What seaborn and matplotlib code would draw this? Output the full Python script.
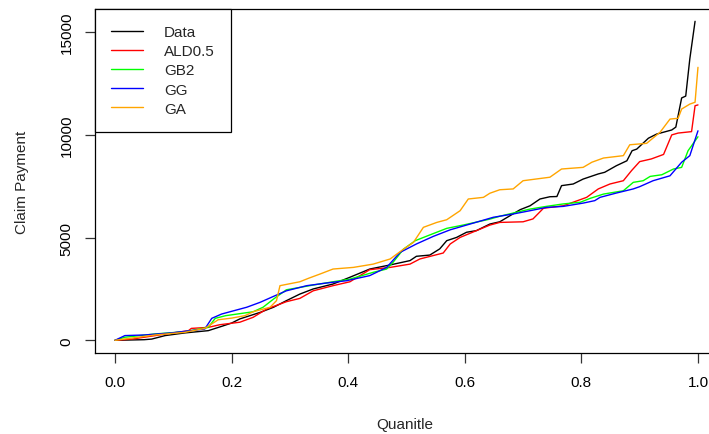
import numpy as np
import pandas as pd
import matplotlib
matplotlib.use('Agg')
import matplotlib.pyplot as plt
import seaborn as sns

# Quantile curves
data_q = [0, 0.05, 0.063, 0.086, 0.12, 0.16, 0.183, 0.2, 0.214, 0.249, 0.272, 0.294, 0.317, 0.34,
          0.374, 0.403, 0.437, 0.472, 0.506, 0.517, 0.54, 0.557, 0.569, 0.586, 0.603, 0.62, 0.643,
          0.66, 0.695, 0.712, 0.729, 0.746, 0.758, 0.766, 0.786, 0.803, 0.829, 0.84, 0.86, 0.878,
          0.887, 0.895, 0.915, 0.929, 0.955, 0.962, 0.972, 0.979, 0.986, 0.995]
data_v = [0, 30, 60, 230, 360, 470, 680, 840, 1040, 1360, 1610, 1930, 2250, 2500,
          2740, 3070, 3470, 3670, 3880, 4090, 4150, 4450, 4850, 5010, 5260, 5340, 5660,
          5770, 6360, 6550, 6880, 6990, 7000, 7530, 7610, 7850, 8100, 8180, 8500, 8740,
          9230, 9310, 9840, 10040, 10240, 10380, 11800, 11890, 13700, 15530]

ald_q = [0, 0.029, 0.069, 0.126, 0.131, 0.16, 0.18, 0.214, 0.237, 0.26, 0.294, 0.317, 0.34,
         0.374, 0.403, 0.437, 0.472, 0.506, 0.523, 0.563, 0.575, 0.592, 0.62, 0.643, 0.66, 0.70,
         0.717, 0.735, 0.769, 0.809, 0.829, 0.849, 0.872, 0.886, 0.9, 0.92, 0.941, 0.955, 0.966,
         0.989, 0.995, 1.0]
ald_v = [0, 60, 230, 470, 580, 630, 760, 880, 1120, 1520, 1880, 2040, 2410,
         2660, 2850, 3440, 3550, 3710, 3960, 4250, 4690, 5010, 5340, 5610, 5740, 5770,
         5910, 6430, 6550, 6960, 7370, 7610, 7770, 8260, 8700, 8830, 9050, 10000, 10090,
         10160, 11420, 11460]

gb2_q = [0, 0.017, 0.069, 0.12, 0.16, 0.172, 0.19, 0.237, 0.254, 0.272, 0.294, 0.34, 0.374,
         0.403, 0.443, 0.466, 0.477, 0.495, 0.515, 0.54, 0.569, 0.597, 0.643, 0.66, 0.712, 0.74,
         0.769, 0.798, 0.815, 0.838, 0.872, 0.889, 0.906, 0.918, 0.938, 0.958, 0.972, 0.983, 1.0]
gb2_v = [0, 150, 310, 420, 630, 1070, 1200, 1390, 1610, 2010, 2460, 2690, 2850,
         2980, 3310, 3470, 3800, 4440, 4850, 5130, 5450, 5610, 5900, 6040, 6390, 6520,
         6640, 6720, 6910, 7120, 7280, 7690, 7770, 7980, 8060, 8340, 8420, 9230, 9910]

gg_q = [0, 0.017, 0.051, 0.097, 0.154, 0.166, 0.183, 0.226, 0.249, 0.272, 0.294, 0.329, 0.363,
        0.397, 0.437, 0.466, 0.489, 0.517, 0.546, 0.575, 0.609, 0.649, 0.683, 0.712, 0.74, 0.769,
        0.803, 0.823, 0.832, 0.86, 0.889, 0.9, 0.923, 0.952, 0.972, 0.986, 1.0]
gg_v = [0, 230, 260, 360, 550, 1070, 1280, 1610, 1850, 2140, 2410, 2660, 2790,
        2900, 3150, 3550, 4280, 4690, 5060, 5380, 5660, 5990, 6150, 6310, 6470, 6520,
        6680, 6800, 6960, 7170, 7370, 7480, 7770, 8010, 8670, 8990, 10200]

ga_q = [0, 0.069, 0.12, 0.154, 0.177, 0.2, 0.223, 0.237, 0.266, 0.277, 0.283, 0.317, 0.332,
        0.352, 0.374, 0.409, 0.443, 0.472, 0.495, 0.512, 0.529, 0.552, 0.569, 0.592, 0.606,
        0.632, 0.643, 0.66, 0.683, 0.70, 0.746, 0.766, 0.803, 0.818, 0.838, 0.872, 0.883, 0.912,
        0.935, 0.952, 0.966, 0.972, 0.986, 0.995, 1.0]
ga_v = [0, 260, 390, 580, 1000, 1080, 1200, 1390, 1610, 1930, 2660, 2850, 3020,
        3230, 3470, 3550, 3710, 3960, 4440, 4770, 5500, 5740, 5870, 6310, 6880,
        6960, 7160, 7330, 7370, 7770, 7940, 8340, 8420, 8670, 8875, 8990, 9520, 9590,
        10130, 10770, 10810, 11260, 11500, 11590, 13290]

models = ['Data', 'ALD0.5', 'GB2', 'GG', 'GA']
colors = ['black', '#FF0000', '#00FF00', '#0000FF', '#FFA500']
x_ticks = [0.0, 0.2, 0.4, 0.6, 0.8, 1.0]
y_ticks = [0, 5000, 10000, 15000]

frames = []
for name, q, v in zip(models, [data_q, ald_q, gb2_q, gg_q, ga_q],
                      [data_v, ald_v, gb2_v, gg_v, ga_v]):
    frames.append(pd.DataFrame({'Quantile': q, 'Claim': v, 'Model': name}))
df = pd.concat(frames, ignore_index=True)

sns.set_theme(style='ticks')
plt.rcParams['font.family'] = ['Liberation Sans', 'DejaVu Sans']

fig = plt.figure(figsize=(7.09, 4.35), dpi=100)
ax = fig.add_axes([95 / 709, 81 / 435, 626 / 709, 344 / 435])

sns.lineplot(data=df, x='Quantile', y='Claim', hue='Model', hue_order=models,
             palette=dict(zip(models, colors)), estimator=None, linewidth=1.0, ax=ax)

ax.set_xlim(-0.0343, 1.0395)
ax.set_ylim(-618, 16130)
ax.set_xticks(x_ticks)
ax.set_xticklabels([f'{t:.1f}' for t in x_ticks])
ax.set_yticks(y_ticks)
ax.set_yticklabels([str(t) for t in y_ticks], rotation=90, va='center')
ax.tick_params(axis='both', direction='out', length=7.5, width=0.9, color='#333333',
               labelsize=11, pad=8, labelcolor='black')
for s in ax.spines.values():
    s.set_color('black')
    s.set_linewidth(0.9)
ax.set_xlabel('')
ax.set_ylabel('')

fig.text(22 / 709, 1 - 182 / 435, 'Claim Payment', rotation=90, ha='center', va='center', fontsize=11)
fig.text(405 / 709, 1 - 425 / 435, 'Quanitle', ha='center', va='center', fontsize=11)

leg = ax.legend(loc='upper left', bbox_to_anchor=(0, 1), borderaxespad=0, frameon=True,
                fancybox=False, edgecolor='black', framealpha=1, fontsize=11,
                handlelength=2.1, handletextpad=1.35, labelspacing=0.34, borderpad=1.05)
leg.get_frame().set_linewidth(0.9)

fig.savefig('out.png', dpi=100)
